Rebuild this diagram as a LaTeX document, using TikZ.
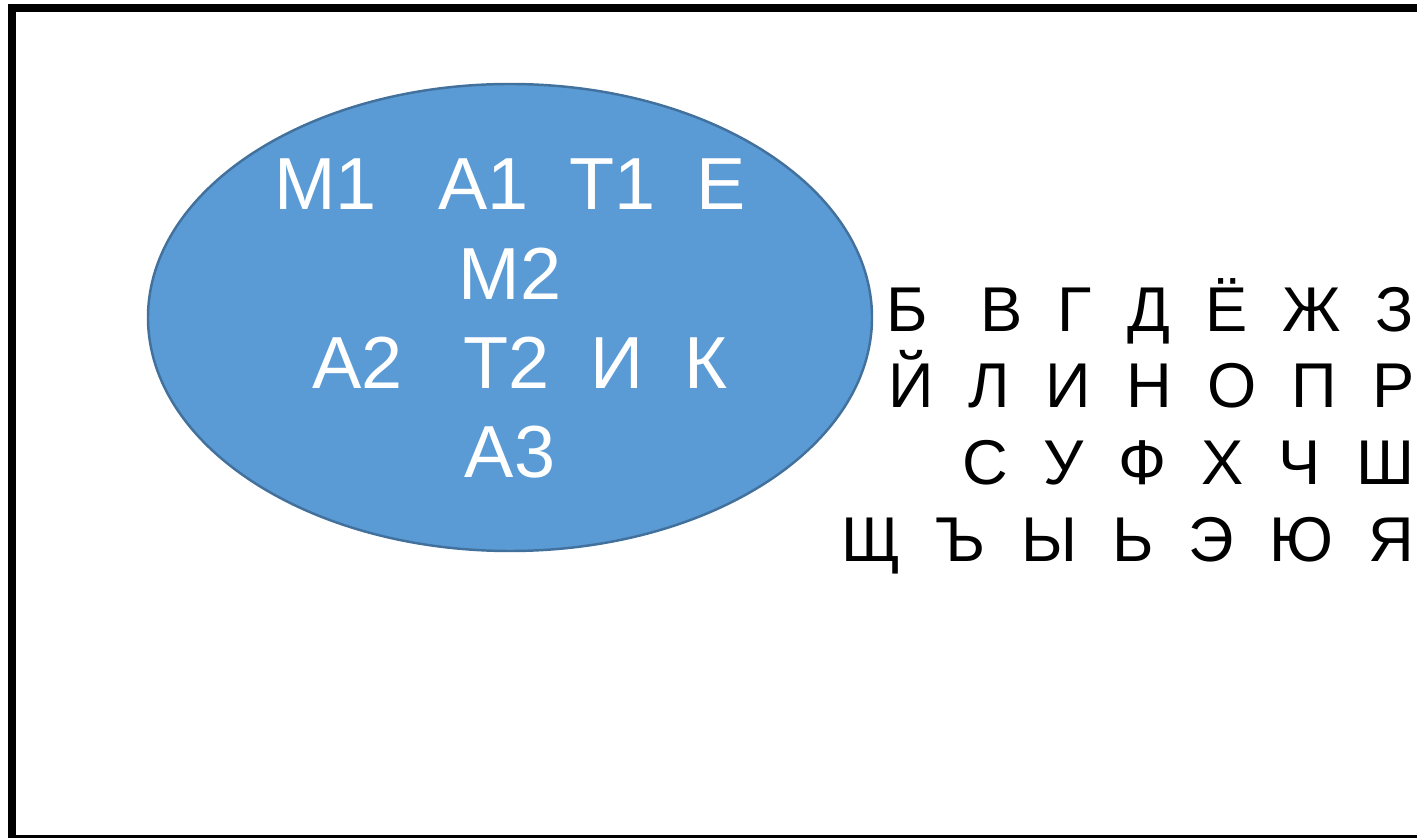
\documentclass[tikz,border=0pt]{standalone}
\usepackage{fontspec}
\setmainfont{Liberation Sans}
\usetikzlibrary{shapes.geometric}
\definecolor{setblue}{HTML}{5B9BD5}
\definecolor{setline}{HTML}{41719C}

\begin{document}
\begin{tikzpicture}[
        frame/.style={draw=black, line width=2.3pt},
        set/.style={ellipse, fill=setblue, draw=setline, line width=0.7pt, minimum width=7.24cm, minimum height=4.67cm, inner sep=0pt},
        inword/.style={anchor=base, text=white, inner sep=0pt, font=\fontsize{21}{25}\selectfont},
        outword/.style={anchor=base east, text=black, inner sep=0pt, font=\fontsize{18}{22}\selectfont}
        ]
        \clip (0,0) rectangle (14.17,-8.38);
        \fill[white] (0,0) rectangle (14.17,-8.38);
        \draw[frame] (0.12,-0.08) rectangle (14.6,-8.39);
        % letters of the word inside the set
        \node (set) [set] at (5.10,-3.175) {};
        \node (in1) [inword] at (5.10,-2.10) {М1~~~А1~~Т1~~Е};
        \node (in2) [inword] at (5.10,-3.00) {М2};
        \node (in3) [inword] at (5.20,-3.89) {А2~~~Т2~~И~~К};
        \node (in4) [inword] at (5.10,-4.78) {А3};
        % the remaining letters
        \node (out1) [outword] at (14.15,-3.32) {Б~~~В~~Г~~Д~~Ё~~Ж~~З};
        \node (out2) [outword] at (14.15,-4.08) {Й~~Л~~И~~Н~~О~~П~~Р};
        \node (out3) [outword] at (14.15,-4.85) {С~~У~~Ф~~Х~~Ч~~Ш};
        \node (out4) [outword] at (14.15,-5.62) {Щ~~Ъ~~Ы~~Ь~~Э~~Ю~~Я};
\end{tikzpicture}
\end{document}
